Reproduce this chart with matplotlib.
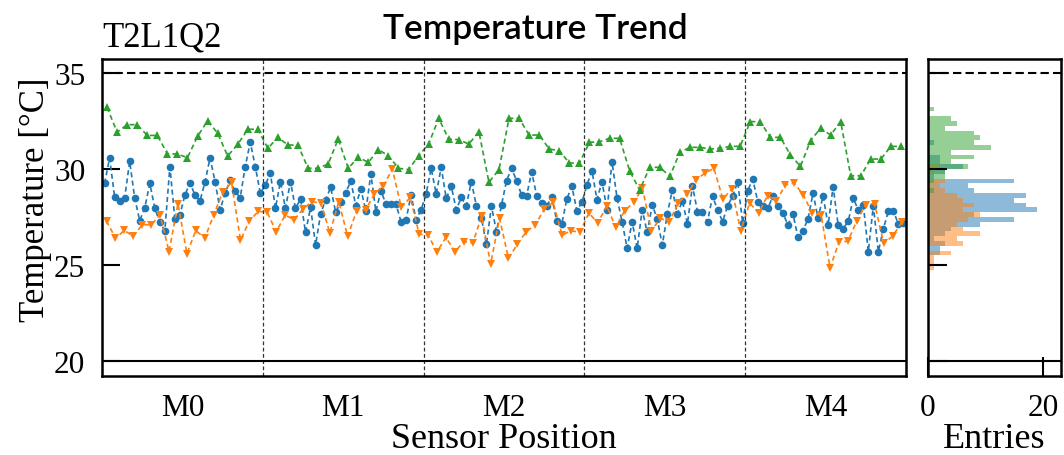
import matplotlib
matplotlib.use("Agg")
import matplotlib.pyplot as plt
import numpy as np

# readings per sensor, module by module (M0..M4)
modules = ["M0", "M1", "M2", "M3", "M4"]

blue = [
    # M0
    29.25, 30.57, 28.56, 28.35, 28.49, 30.40, 28.49, 27.31, 27.97, 29.25, 27.97, 27.22, 26.79, 30.12, 27.40, 27.62,
    28.65, 29.27, 28.65, 28.35, 29.33, 30.59, 29.33, 27.88, 28.75, 29.41, 28.83, 28.51, 30.13, 31.40, 30.13, 28.74,
    # M1
    29.17, 29.79, 27.95, 29.34, 27.95, 29.34, 27.95, 28.44, 26.70, 28.00, 26.04, 27.66, 28.40, 29.05, 27.74, 28.30,
    28.75, 29.39, 28.09, 28.96, 27.83, 29.74, 27.78, 28.87, 28.18, 28.18, 28.18, 27.26, 27.36, 28.65, 27.36, 27.88,
    # M2
    28.70, 30.04, 28.70, 30.09, 28.47, 29.10, 27.88, 28.52, 28.09, 29.34, 28.09, 27.43, 26.09, 28.06, 26.74, 28.13,
    29.39, 30.04, 29.39, 28.65, 28.61, 29.86, 28.61, 28.23, 28.09, 28.52, 27.31, 27.14, 28.44, 29.10, 27.83, 28.26,
    # M3
    29.17, 29.91, 28.40, 29.34, 27.88, 30.38, 28.47, 27.26, 25.87, 27.26, 25.87, 27.88, 26.70, 28.13, 27.40, 26.04,
    27.66, 28.92, 27.66, 28.35, 27.14, 29.13, 27.78, 27.74, 27.26, 28.58, 27.88, 27.26, 28.09, 28.58, 29.34, 27.19,
    # M4
    28.87, 29.48, 28.30, 28.09, 27.95, 28.58, 28.06, 27.71, 27.08, 27.66, 26.44, 26.79, 27.40, 28.75, 27.43, 28.61,
    27.07, 29.09, 27.07, 26.90, 27.27, 28.48, 27.87, 28.15, 25.70, 28.09, 25.70, 26.90, 27.81, 27.81, 27.12, 27.20,
]

orange = [
    # M0
    27.3, 26.4, 26.8, 26.5, 27.1, 27.1, 27.6, 25.7, 28.2, 25.6, 26.8, 26.4, 27.6, 28.8, 29.3, 26.3, 27.3, 27.8,
    # M1
    27.74, 26.74, 27.60, 27.36, 27.92, 28.30, 28.23, 26.67, 28.30, 26.49, 27.83, 27.88, 28.70, 29.13, 30.00, 28.00, 28.52, 26.61,
    # M2
    26.56, 25.69, 26.44, 25.69, 26.22, 26.15, 27.54, 25.05, 27.43, 25.35, 26.09, 26.74, 27.08, 27.92, 28.26, 26.56, 26.79, 26.70,
    # M3
    27.71, 27.19, 28.09, 26.96, 27.83, 28.26, 28.99, 26.79, 27.43, 27.26, 28.23, 28.70, 29.44, 29.79, 30.04, 28.44, 28.96, 26.79,
    # M4
    28.23, 27.71, 28.61, 28.35, 29.17, 29.27, 28.65, 27.71, 27.60, 24.85, 26.20, 26.24, 27.31, 28.15, 28.17, 26.13, 26.50, 27.22,
]

green = [
    # M0
    33.21, 31.92, 32.31, 32.31, 31.75, 31.75, 30.80, 30.78, 30.59, 31.70, 32.51, 31.87, 30.68, 31.28, 32.07, 32.07,
    # M1
    31.08, 31.65, 31.25, 31.25, 30.04, 30.04, 30.26, 31.56, 30.04, 30.61, 30.35, 31.01, 30.69, 30.04, 29.97, 30.69,
    # M2
    31.30, 32.64, 31.56, 31.53, 31.30, 31.95, 29.31, 29.97, 32.64, 32.64, 31.77, 31.77, 31.04, 30.96, 30.31, 30.31,
    # M3
    31.39, 31.42, 31.60, 31.60, 29.91, 28.90, 30.09, 30.09, 29.62, 30.87, 31.13, 31.13, 31.04, 31.08, 31.18, 31.18,
    # M4
    32.47, 32.47, 31.65, 31.65, 30.73, 30.14, 31.48, 32.12, 31.77, 32.47, 29.65, 29.65, 30.52, 30.52, 31.18, 31.18,
]

upper_limit = 35
lower_limit = 20

plt.rcParams['font.family'] = ['Liberation Serif', 'DejaVu Serif']

fig = plt.figure(figsize=(10.64, 4.56), dpi=100)
ax = fig.add_axes([0.0959, 0.1732, 0.7556, 0.6952])
axh = fig.add_axes([0.8722, 0.1732, 0.1250, 0.6952], sharey=ax)

n_mod = len(modules)
series = [(blue, 'tab:blue', 'o'), (orange, 'tab:orange', 'v'), (green, 'tab:green', '^')]
for vals, col, mk in series:
    per = len(vals) // n_mod
    x = np.arange(len(vals)) // per + (np.arange(len(vals)) % per + 0.5) / per
    ax.plot(x, vals, ls=(0, (3, 2)), lw=1.2, color=col, marker=mk, ms=5.5, mew=0)

for b in range(1, n_mod):
    ax.axvline(b, color='0.2', lw=0.9, ls=(0, (3, 2)))

for a in (ax, axh):
    a.axhline(upper_limit, color='k', lw=1.5, ls=(0, (4, 2)))
    a.axhline(lower_limit, color='k', lw=1.5)
    for s in a.spines.values():
        s.set_linewidth(1.8)

ax.set_xlim(0, n_mod)
ax.set_ylim(19.22, 35.73)
ax.set_yticks([20, 25, 30, 35])
ax.tick_params(axis='y', direction='in', length=13, width=1.5, pad=12, labelsize=22.5)
ax.set_xticks(np.arange(n_mod) + 0.5)
ax.set_xticklabels(modules)
ax.tick_params(axis='x', length=0, pad=12, labelsize=22.5)
ax.set_xlabel('Sensor Position', fontsize=26, labelpad=0)
ax.set_ylabel('Temperature [°C]', fontsize=25)
ax.yaxis.set_label_coords(-0.062, 0.558)

bins = np.arange(20, 35.01, 0.25)
for vals, col, mk in series:
    axh.hist(vals, bins=bins, orientation='horizontal', color=col, alpha=0.5)
axh.set_xlim(0, 23.1)
axh.set_xticks([0, 20])
axh.tick_params(axis='x', direction='in', length=14, width=1.5, pad=12, labelsize=22.5)
axh.tick_params(axis='y', direction='in', length=14, width=1.5, labelleft=False)
axh.set_xlabel('Entries', fontsize=26, labelpad=0)

fig.text(102 / 1064, 1 - 47 / 456, 'T2L1Q2', fontsize=25, va='baseline', ha='left')
fig.text(0.503, 1 - 39 / 456, 'Temperature Trend', fontsize=25.5, va='baseline', ha='center',
         family=['Lato', 'DejaVu Sans'], weight='semibold')

fig.savefig('out.png', dpi=100)
